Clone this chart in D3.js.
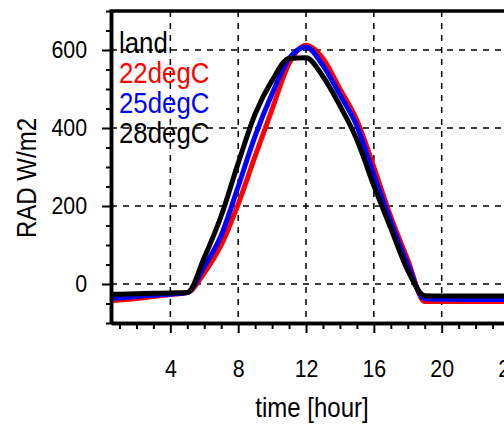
<!DOCTYPE html>
<html>
<head>
<meta charset="utf-8">
<script src="https://cdn.jsdelivr.net/npm/d3@7"></script>
<style>
  body { margin: 0; background: #fff; }
  svg { display: block; font-family: "Liberation Sans", Arial, sans-serif; }
</style>
</head>
<body>
<div id="chart"></div>
<script>
// hourly values
var hours = [0, 1, 2, 3, 4, 5, 6, 7, 8, 9, 10, 11, 12, 13, 14, 15, 16, 17, 18, 19, 20, 21, 22, 23, 24];
var rad22 = [-45, -41, -37, -32, -27, -22, 28, 100, 205, 328, 448, 565, 612, 578, 500, 420, 300, 172, 62, -45, -45, -45, -45, -45, -45];
var rad25 = [-37, -35, -32, -29, -26, -22, 45, 125, 250, 380, 488, 578, 608, 560, 485, 405, 280, 160, 50, -38, -39, -39, -40, -40, -40];
var rad28 = [-27, -26, -25, -24, -23, -22, 68, 175, 310, 436, 522, 578, 580, 532, 457, 370, 252, 143, 35, -30, -31, -31, -31, -31, -31];
var seriesNames = ["22degC", "25degC", "28degC"];
var seriesColors = ["#ff0000", "#0000ff", "#000000"];
var legendTitle = "land";
var xTicks = [4, 8, 12, 16, 20, 24];
var yTicks = [0, 200, 400, 600];

(function() {
  var width = 504;
  var height = 426;
  var squeeze = 0.89;   // the reference font is a little narrow

  var svg = d3.select("#chart")
    .append("svg")
    .attr("width", width)
    .attr("height", height);

  // plot area
  var left = 111, top = 11, bottom = 323, right = 518;

  var x = d3.scaleLinear().domain([0.5, 24.5]).range([left, right]);
  var y = d3.scaleLinear().domain([-100, 700]).range([bottom, top]);

  // dashed grid
  var grid = svg.append("g")
    .attr("stroke", "#000")
    .attr("stroke-width", 1.5)
    .attr("stroke-dasharray", "6,6");
  grid.selectAll("line.v")
    .data(xTicks)
    .enter()
    .append("line")
    .attr("x1", d => x(d)).attr("x2", d => x(d))
    .attr("y1", top).attr("y2", bottom);
  grid.selectAll("line.h")
    .data(yTicks)
    .enter()
    .append("line")
    .attr("x1", left).attr("x2", right)
    .attr("y1", d => y(d)).attr("y2", d => y(d));

  // lines
  var all = [rad22, rad25, rad28];
  var line = d3.line()
    .curve(d3.curveMonotoneX)
    .x((d, i) => x(hours[i]))
    .y(d => y(d));

  svg.append("clipPath").attr("id", "clip")
    .append("rect")
    .attr("x", left).attr("y", top)
    .attr("width", right - left).attr("height", bottom - top);

  svg.append("g")
    .attr("clip-path", "url(#clip)")
    .selectAll("path")
    .data(all)
    .enter()
    .append("path")
    .attr("fill", "none")
    .attr("stroke", (d, i) => seriesColors[i])
    .attr("stroke-width", 5)
    .attr("stroke-linejoin", "round")
    .attr("d", line);

  // minor ticks
  var yMinor = d3.range(-100, 701, 50).filter(v => yTicks.indexOf(v) < 0);
  var xMinor = d3.range(1, 25).filter(v => xTicks.indexOf(v) < 0);

  var yMinorAxis = svg.append("g")
    .attr("transform", "translate(" + left + ",0)")
    .call(d3.axisLeft(y).tickValues(yMinor).tickSize(5).tickFormat("").tickSizeOuter(0));
  var xMinorAxis = svg.append("g")
    .attr("transform", "translate(0," + bottom + ")")
    .call(d3.axisBottom(x).tickValues(xMinor).tickSize(6).tickFormat("").tickSizeOuter(0));

  var yAxis = svg.append("g")
    .attr("transform", "translate(" + left + ",0)")
    .call(d3.axisLeft(y).tickValues(yTicks).tickSize(9).tickPadding(15).tickSizeOuter(0));
  var xAxis = svg.append("g")
    .attr("transform", "translate(0," + bottom + ")")
    .call(d3.axisBottom(x).tickValues(xTicks).tickSize(10).tickPadding(27).tickSizeOuter(0));

  [yMinorAxis, xMinorAxis, yAxis, xAxis].forEach(function(a) {
    a.selectAll(".tick line").attr("stroke", "#000").attr("stroke-width", 2);
    a.select(".domain").attr("stroke", "#000").attr("stroke-width", 3.5);
  });
  yAxis.selectAll("text")
    .attr("fill", "#000")
    .attr("x", -24 / squeeze)
    .attr("transform", "scale(" + squeeze + ",1)")
    .style("font-size", "24px");
  xAxis.selectAll("text")
    .attr("fill", "#000")
    .attr("transform", "scale(" + squeeze + ",1)")
    .style("font-size", "24px");

  // top frame
  svg.append("line")
    .attr("x1", left - 1.5).attr("x2", right)
    .attr("y1", top).attr("y2", top)
    .attr("stroke", "#000").attr("stroke-width", 3.5);

  // axis titles
  svg.append("text")
    .attr("transform", "translate(312,417) scale(" + squeeze + ",1)")
    .attr("text-anchor", "middle")
    .style("font-size", "27px")
    .text("time [hour]");
  svg.append("text")
    .attr("transform", "translate(36,178) rotate(-90) scale(" + squeeze + ",1)")
    .attr("text-anchor", "middle")
    .style("font-size", "27px")
    .text("RAD W/m2");

  // legend
  var legend = svg.append("g");
  legend.selectAll("text")
    .data([legendTitle].concat(seriesNames))
    .enter()
    .append("text")
    .attr("transform", (d, i) => "translate(119," + (53 + i * 30) + ") scale(" + squeeze + ",1)")
    .attr("fill", (d, i) => i === 0 ? "#000" : seriesColors[i - 1])
    .style("font-size", "29px")
    .text(d => d);
})();
</script>
</body>
</html>
